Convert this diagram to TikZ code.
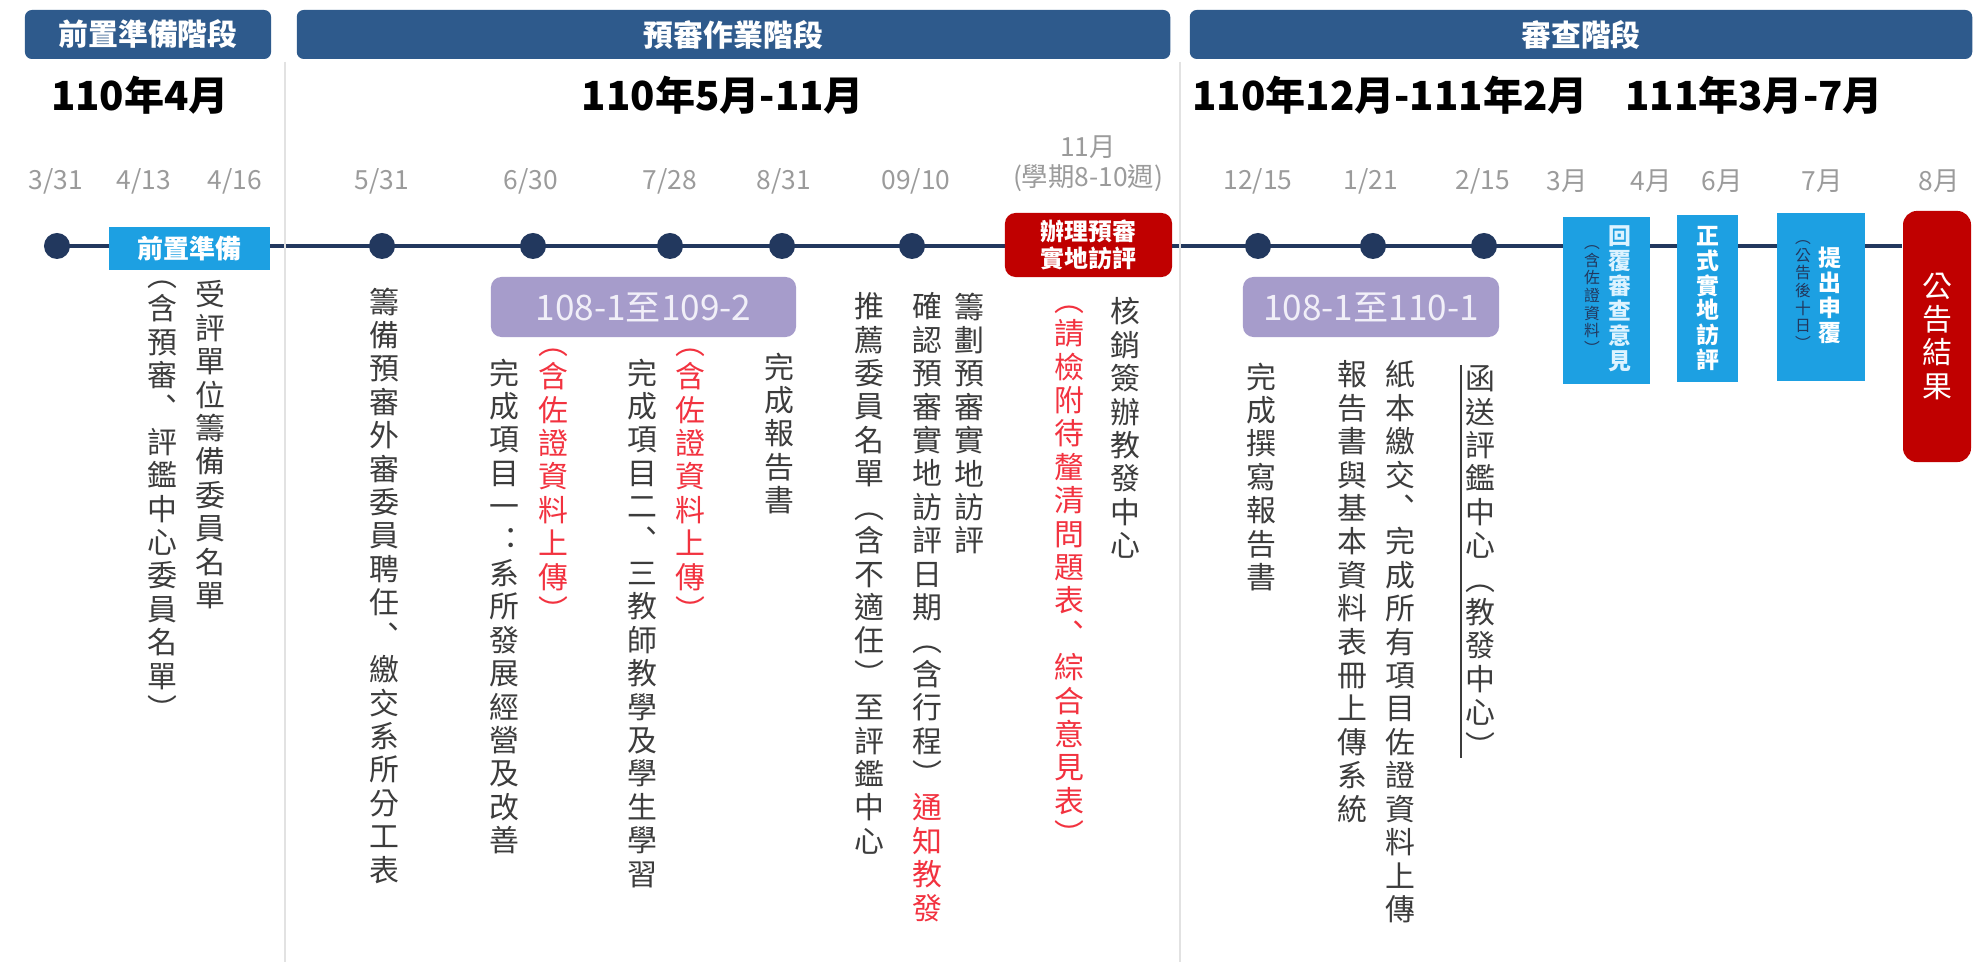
\documentclass[tikz,border=0pt]{standalone}
\usepackage{fontspec}
\setmainfont{Noto Sans CJK TC}
\usepackage{xcolor}
\usetikzlibrary{backgrounds}

\definecolor{barblue}{HTML}{2E5A8C}
\definecolor{navy}{HTML}{22385E}
\definecolor{boxcyan}{HTML}{1DA0E2}
\definecolor{boxlav}{HTML}{A69CCB}
\definecolor{lavtext}{HTML}{F1EFF8}
\definecolor{boxred}{HTML}{C00000}
\definecolor{txtgray}{HTML}{3C3C3C}
\definecolor{dategray}{HTML}{9B9B9B}
\definecolor{redtxt}{HTML}{F2323F}
\definecolor{divgray}{HTML}{E2E2E2}
\definecolor{paleblue}{HTML}{DDF3FF}

% one upright character per line
\ExplSyntaxOn
\NewDocumentCommand\vcol{O{txtgray}m}
  {\tl_map_inline:nn {#2} {\hbox_to_wd:nn {1em} {\hss\color{#1}##1\hss}}}
\ExplSyntaxOff

\begin{document}
\begin{tikzpicture}[x=0.01cm, y=-0.01cm,
  phasebar/.style={fill=barblue, rounded corners=2pt, text=white, inner sep=0pt,
    minimum height=0.49cm, font=\fontsize{8.5}{9}\selectfont\bfseries},
  yearlbl/.style={text=black, font=\fontsize{11.4}{12}\selectfont\bfseries},
  datelbl/.style={text=dategray, align=center, font=\fontsize{7.5}{8.5}\selectfont},
  tdot/.style={circle, fill=navy, minimum size=0.26cm, inner sep=0pt},
  vt/.style={anchor=north, inner sep=0pt, font=\fontsize{8.5}{9.5}\selectfont},
  tag/.style={fill=boxlav, rounded corners=3pt, text=lavtext, inner sep=0pt,
    minimum height=0.6cm, font=\fontsize{10}{11}\selectfont},
  eventbox/.style={fill=boxcyan, inner sep=0pt},
  alertbox/.style={fill=boxred, rounded corners=3pt, text=white, inner sep=0pt},
  boxmain/.style={anchor=center, inner sep=0pt, font=\fontsize{6.5}{7.1}\selectfont\bfseries},
  boxsmall/.style={anchor=center, inner sep=0pt, font=\fontsize{4.5}{5}\selectfont},
  tline/.style={draw=navy, line width=1.4pt},
  divider/.style={draw=divgray, line width=0.6pt}
]
\useasboundingbox (0,0) rectangle (1979,962);

% phases
\node[phasebar, minimum width=2.46cm] (ph1) at (148,34.5) {前置準備階段};
\node[phasebar, minimum width=8.73cm] (ph2) at (733.5,34.5) {預審作業階段};
\node[phasebar, minimum width=7.82cm] (ph3) at (1581,34.5) {審查階段};

\draw[divider] (285,62) -- (285,962);
\draw[divider] (1180,62) -- (1180,962);

\node[yearlbl] (y1) at (140,95) {110年4月};
\node[yearlbl] (y2) at (723,95) {110年5月-11月};
\node[yearlbl] (y3) at (1390,95) {110年12月-111年2月};
\node[yearlbl] (y4) at (1754,95) {111年3月-7月};

% dates
\node[datelbl] (t331) at (56,181) {3/31};
\node[datelbl] (t413) at (144,181) {4/13};
\node[datelbl] (t416) at (235,181) {4/16};
\node[datelbl] (t531) at (382,181) {5/31};
\node[datelbl] (t630) at (531,181) {6/30};
\node[datelbl] (t728) at (670,181) {7/28};
\node[datelbl] (t831) at (784,181) {8/31};
\node[datelbl] (t910) at (916,181) {09/10};
\node[datelbl] (t11) at (1088,164) {11月\\(學期8-10週)};
\node[datelbl] (t1215) at (1258,181) {12/15};
\node[datelbl] (t121) at (1371,181) {1/21};
\node[datelbl] (t215) at (1483,181) {2/15};
\node[datelbl] (t3) at (1567,181) {3月};
\node[datelbl] (t4) at (1651,181) {4月};
\node[datelbl] (t6) at (1722,181) {6月};
\node[datelbl] (t7) at (1822,181) {7月};
\node[datelbl] (t8) at (1939,181) {8月};

% timeline
\node[tdot] (d331) at (57,246) {};
\node[tdot] (d531) at (382,246) {};
\node[tdot] (d630) at (533,246) {};
\node[tdot] (d728) at (670,246) {};
\node[tdot] (d831) at (782,246) {};
\node[tdot] (d910) at (912,246) {};
\node[tdot] (d1215) at (1258,246) {};
\node[tdot] (d121) at (1373,246) {};
\node[tdot] (d215) at (1484,246) {};

\node[eventbox, minimum width=1.61cm, minimum height=0.43cm, text=white,
  font=\fontsize{7.4}{8}\selectfont\bfseries] (prep) at (189.5,248.5) {前置準備};
\node[alertbox, minimum width=1.67cm, minimum height=0.64cm, align=center,
  font=\fontsize{6.8}{7.7}\selectfont\bfseries] (visit) at (1088.5,245) {辦理預審\\實地訪評};
\node[tag, minimum width=3.05cm] (tag1) at (643.5,307) {108-1至109-2};
\node[tag, minimum width=2.56cm] (tag2) at (1371,307) {108-1至110-1};

\node[eventbox, minimum width=0.87cm, minimum height=1.67cm] (reply) at (1606.5,300.5) {};
\node[boxmain] (replym) at (1620,299) {\vbox{\vcol[paleblue]{回覆審查意見}}};
\node[boxsmall] (replys) at (1592,300) {\vbox{\vcol[navy]{︵含佐證資料︶}}};
\node[eventbox, minimum width=0.61cm, minimum height=1.67cm,
  font=\fontsize{6.5}{7.1}\selectfont\bfseries] (onsite) at (1707.5,298.5) {\vbox{\vcol[white]{正式實地訪評}}};
\node[eventbox, minimum width=0.88cm, minimum height=1.68cm] (appeal) at (1821,297) {};
\node[boxmain] (appealm) at (1830,295) {\vbox{\vcol[white]{提出申覆}}};
\node[boxsmall] (appeals) at (1803,295) {\vbox{\vcol[navy]{︵公告後十日︶}}};
\node[alertbox, minimum width=0.68cm, minimum height=2.51cm, rounded corners=4pt,
  font=\fontsize{8.5}{9.4}\selectfont] (result) at (1937,336.5) {\vbox{\vcol[white]{公告結果}}};

\begin{scope}[on background layer]
  \fill[white] (0,0) rectangle (1979,962);
  \draw[tline] (d331.center) -- (d331.center -| result.west);
\end{scope}

% tasks
\node[vt] (n1) at (210,280) {\vbox{\vcol{受評單位籌備委員名單}}};
\node[vt] (n1b) at (162,280) {\vbox{\vcol{︵含預審︑評鑑中心委員名單︶}}};
\node[vt] (n2) at (384,287) {\vbox{\vcol{籌備預審外審委員聘任︑繳交系所分工表}}};
\node[vt] (n3r) at (553,348) {\vbox{\vcol[redtxt]{︵含佐證資料上傳︶}}};
\node[vt] (n3) at (504,358) {\vbox{\vcol{完成項目一︓系所發展經營及改善}}};
\node[vt] (n4) at (642,358) {\vbox{\vcol{完成項目二︑三教師教學及學生學習}}};
\node[vt] (n4r) at (690,348) {\vbox{\vcol[redtxt]{︵含佐證資料上傳︶}}};
\node[vt] (n5) at (779,352) {\vbox{\vcol{完成報告書}}};
\node[vt] (n6) at (869,292) {\vbox{\vcol{推薦委員名單︵含不適任︶至評鑑中心}}};
\node[vt] (n7) at (927,292) {\vbox{\vcol{確認預審實地訪評日期︵含行程︶}\vcol[redtxt]{通知教發}}};
\node[vt] (n8) at (969,292) {\vbox{\vcol{籌劃預審實地訪評}}};
\node[vt] (n9) at (1069,305) {\vbox{\vcol[redtxt]{︵請檢附待釐清問題表︑綜合意見表︶}}};
\node[vt] (n10) at (1125,297) {\vbox{\vcol{核銷簽辦教發中心}}};
\node[vt] (n11) at (1261,362) {\vbox{\vcol{完成撰寫報告書}}};
\node[vt] (n12) at (1352,360) {\vbox{\vcol{報告書與基本資料表冊上傳系統}}};
\node[vt] (n13) at (1400,360) {\vbox{\vcol{紙本繳交︑完成所有項目佐證資料上傳}}};
\node[vt] (n14) at (1480,365) {\vbox{\vcol{函送評鑑中心︵教發中心︶}}};
\draw[txtgray, line width=0.4pt] ([xshift=-1pt]n14.north west) -- ([xshift=-1pt]n14.south west);
\end{tikzpicture}
\end{document}
